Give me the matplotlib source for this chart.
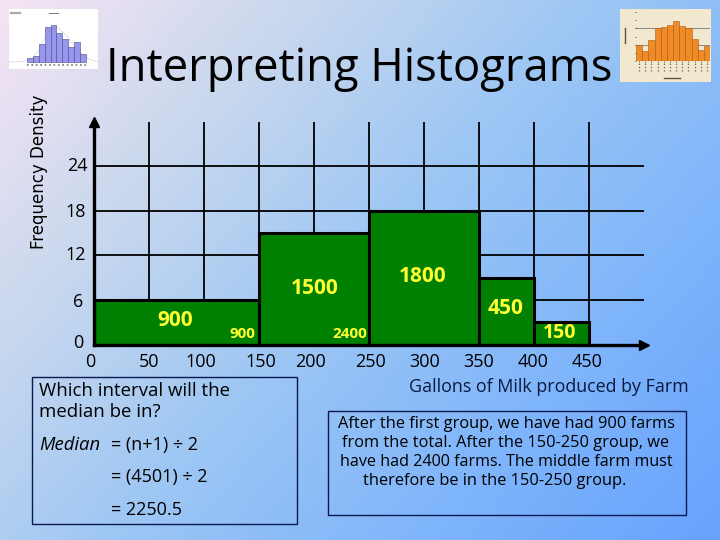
import numpy as np
import matplotlib
matplotlib.use("Agg")
import matplotlib.pyplot as plt
from matplotlib.colors import LinearSegmentedColormap
from matplotlib.patches import Rectangle

plt.rcParams["font.family"] = ["Open Sans", "DejaVu Sans"]

# main histogram
bin_edges = [0, 150, 250, 350, 400, 450]
freq_density = [6, 15, 18, 9, 3]
x_ticks = [0, 50, 100, 150, 200, 250, 300, 350, 400, 450]
y_ticks = [0, 6, 12, 18, 24]
grid_x = [50, 100, 150, 200, 250, 300, 350, 400, 450]
grid_y = [6, 12, 18, 24]

# thumbnail, top left
thumb_left_heights = [12, 17, 53, 105, 110, 87, 68, 45, 59, 23]
thumb_left_curve_x = [-3, -1, 0, 1, 2, 3, 4, 5, 6, 7, 8, 9, 10, 11, 12]
thumb_left_curve_y = [0, 1, 4, 12, 35, 72, 100, 105, 92, 72, 50, 30, 14, 5, 1]

# thumbnail, top right
thumb_right_heights = [2.0, 1.2, 2.6, 4.0, 4.2, 4.4, 4.9, 4.3, 4.0, 2.7, 1.4, 1.8]

W, H = 720, 540


def add_axes_px(fig, left, top, right, bottom, **kwargs):
    return fig.add_axes(
        [left / W, 1 - bottom / H, (right - left) / W, (bottom - top) / H], **kwargs
    )


def draw_background(fig):
    ax = add_axes_px(fig, 0, 0, W, H)
    cmap = LinearSegmentedColormap.from_list(
        "slide", ["#f6e4f4", "#c9d8ee", "#9cc6f4", "#7fb5fb", "#68a2fd"]
    )
    xx, yy = np.meshgrid(np.linspace(0, 1, 200), np.linspace(0, 1, 150))
    ax.imshow((xx * 0.6 + yy * 0.4), cmap=cmap, aspect="auto", vmin=0, vmax=1)
    ax.axis("off")


def draw_histogram(fig):
    ax = add_axes_px(fig, 94, 122, 644, 344.5)
    ax.patch.set_alpha(0)
    ax.set_xlim(0, 500)
    ax.set_ylim(0, 30)
    for x in grid_x:
        ax.plot([x, x], [0, 30], color="black", lw=1.3, zorder=1, solid_capstyle="butt")
    for y in grid_y:
        ax.plot([0, 500], [y, y], color="black", lw=1.3, zorder=1, solid_capstyle="butt")
    ax.bar(
        bin_edges[:-1],
        freq_density,
        width=np.diff(bin_edges),
        align="edge",
        color="#008000",
        edgecolor="black",
        linewidth=2.2,
        zorder=2,
    )
    for side in ["top", "right"]:
        ax.spines[side].set_visible(False)
    for side in ["left", "bottom"]:
        ax.spines[side].set_linewidth(2.4)
        ax.spines[side].set_zorder(3)
    ax.set_xticks([])
    ax.set_yticks([])
    ax.plot(1, 0, ">k", ms=7, transform=ax.transAxes, clip_on=False, zorder=4)
    ax.plot(0, 1, "^k", ms=7, transform=ax.transAxes, clip_on=False, zorder=4)


def draw_thumb_left(fig):
    ax = add_axes_px(fig, 9, 9, 98, 69)
    ax.set_facecolor("white")
    ax.bar(
        range(len(thumb_left_heights)),
        thumb_left_heights,
        width=1,
        align="edge",
        color="#9797f0",
        edgecolor="#4a4a80",
        linewidth=0.4,
    )
    ax.plot(thumb_left_curve_x, thumb_left_curve_y, color="#8a8a9a", lw=0.5, ls=":")
    ax.set_xlim(-3, 12)
    ax.set_ylim(-21, 159)
    # smudges standing in for the unreadable title, legend and x labels
    ax.plot([3.8, 5.2], [148, 148], color="#777777", lw=0.7)
    ax.plot([-2.6, -1.2], [146, 146], color="#aaaaaa", lw=1.6)
    ax.plot([0, 10], [-9, -9], color="#777777", lw=1.2, ls=":")
    ax.set_xticks([])
    ax.set_yticks([])
    for spine in ax.spines.values():
        spine.set_visible(False)


def draw_thumb_right(fig):
    panel = add_axes_px(fig, 620, 9, 711, 82)
    panel.set_facecolor("#f1e8cf")
    panel.set_xticks([])
    panel.set_yticks([])
    for spine in panel.spines.values():
        spine.set_visible(False)

    ax = add_axes_px(fig, 636, 12, 710, 61)
    ax.patch.set_alpha(0)
    ax.set_xlim(0, 12)
    ax.set_ylim(0, 6)
    ax.axhline(4, color="#777777", lw=0.6, zorder=1)
    ax.axhline(2, color="#777777", lw=0.6, zorder=1)
    ax.bar(
        range(len(thumb_right_heights)),
        thumb_right_heights,
        width=1,
        align="edge",
        color="#f08a25",
        edgecolor="#a85c18",
        linewidth=0.4,
        zorder=2,
    )
    ax.set_xticks(np.arange(12) + 0.5)
    ax.set_yticks(range(7))
    ax.tick_params(length=1, width=0.5, labelbottom=False, labelleft=False, pad=0)
    for spine in ax.spines.values():
        spine.set_visible(False)
    # squiggles standing in for the rotated month labels and axis names
    for i in range(12):
        ax.plot([i + 0.5, i + 0.5], [-1.2, -0.3], color="#666655", lw=0.9, ls=":", clip_on=False)
    ax.plot([4.6, 7.2], [-2.1, -2.1], color="#555544", lw=1.0, clip_on=False)
    ax.plot([-1.8, -1.8], [2.2, 4], color="#555544", lw=1.0, clip_on=False)


def draw_text(fig):
    ax = add_axes_px(fig, 0, 0, W, H)
    ax.patch.set_alpha(0)
    ax.set_xlim(0, W)
    ax.set_ylim(H, 0)
    ax.axis("off")

    ax.text(359, 69, "Interpreting Histograms", fontsize=32.7, ha="center", va="center")
    ax.text(39, 172, "Frequency Density", fontsize=12, rotation=90, ha="center", va="center",
            family=["DejaVu Sans"])

    # tick labels, offsets follow the slide rather than the axis
    x_label_pos = [90, 149, 201, 261, 311, 371, 425, 479, 533, 587]
    for value, x in zip(x_ticks, x_label_pos):
        ax.text(x, 362, str(value), fontsize=13, ha="center", va="center")
    y_label_pos = [(78, 343), (78, 302), (76, 255), (76, 212), (77, 166)]
    for value, (x, y) in zip(y_ticks, y_label_pos):
        ax.text(x, y, str(value), fontsize=13, ha="center", va="center")

    yellow = "#ffff33"
    ax.text(175, 320, "900", color=yellow, fontsize=15, fontweight="bold", ha="center", va="center")
    ax.text(242, 334, "900", color=yellow, fontsize=11, fontweight="bold", ha="center", va="center")
    ax.text(315, 289, "1500", color=yellow, fontsize=15, fontweight="bold", ha="center", va="center")
    ax.text(350, 334, "2400", color=yellow, fontsize=11, fontweight="bold", ha="center", va="center")
    ax.text(423, 277, "1800", color=yellow, fontsize=15, fontweight="bold", ha="center", va="center")
    ax.text(506, 309, "450", color=yellow, fontsize=15, fontweight="bold", ha="center", va="center")
    ax.text(560, 333, "150", color=yellow, fontsize=14, fontweight="bold", ha="center", va="center")

    ax.text(549, 387, "Gallons of Milk produced by Farm", fontsize=12.9, color="#0a1a40",
            ha="center", va="center")

    # left box
    ax.add_patch(Rectangle((32, 377), 265, 147, fill=False, edgecolor="#0a1a50", lw=1))
    ax.text(39, 391, "Which interval will the", fontsize=13.4, va="center")
    ax.text(39, 412, "median be in?", fontsize=13.4, va="center")
    ax.text(39, 445, "Median", fontsize=13.3, va="center", style="italic")
    ax.text(111, 445, "= (n+1) ÷ 2", fontsize=13, va="center")
    ax.text(111, 477, "= (4501) ÷ 2", fontsize=13, va="center")
    ax.text(111, 510, "= 2250.5", fontsize=13, va="center")

    # right box
    ax.add_patch(Rectangle((328, 411), 358, 104, fill=False, edgecolor="#0a1a50", lw=1))
    ax.text(507, 424, "After the first group, we have had 900 farms", fontsize=11.8, ha="center", va="center")
    ax.text(506, 443, "from the total. After the 150-250 group, we", fontsize=11.8, ha="center", va="center")
    ax.text(506, 462, "have had 2400 farms. The middle farm must", fontsize=11.6, ha="center", va="center")
    ax.text(495, 481, "therefore be in the 150-250 group.", fontsize=11.8, ha="center", va="center")


def main():
    fig = plt.figure(figsize=(W / 100, H / 100), dpi=100)
    draw_background(fig)
    draw_histogram(fig)
    draw_thumb_left(fig)
    draw_thumb_right(fig)
    draw_text(fig)
    fig.savefig("out.png", dpi=100)


if __name__ == "__main__":
    main()
